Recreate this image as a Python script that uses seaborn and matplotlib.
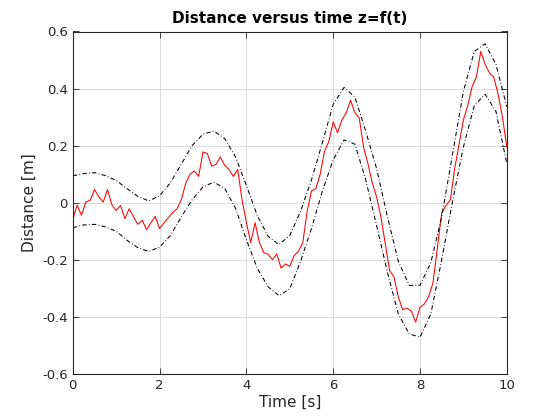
import numpy as np
import pandas as pd
import matplotlib
matplotlib.use("Agg")
import matplotlib.pyplot as plt
import seaborn as sns

# measured signal, sampled every 0.1 s
t_meas = np.round(np.arange(0, 10.01, 0.1), 2)
z_meas = [-0.058, -0.009, -0.044, 0.002, 0.008, 0.046, 0.02, 0.002, 0.046, -0.007,
          -0.027, -0.01, -0.056, -0.021, -0.05, -0.076, -0.062, -0.095, -0.071, -0.048,
          -0.091, -0.071, -0.053, -0.035, -0.022, 0.01, 0.067, 0.1, 0.111, 0.092,
          0.178, 0.172, 0.128, 0.134, 0.16, 0.131, 0.116, 0.092, 0.116, 0.01,
          -0.07, -0.14, -0.07, -0.14, -0.175, -0.181, -0.2, -0.18, -0.23, -0.215,
          -0.223, -0.186, -0.17, -0.14, -0.03, 0.041, 0.049, 0.1, 0.18, 0.215,
          0.283, 0.245, 0.29, 0.315, 0.359, 0.315, 0.297, 0.195, 0.137, 0.07,
          0.02, -0.05, -0.144, -0.238, -0.26, -0.33, -0.375, -0.37, -0.38, -0.419,
          -0.367, -0.355, -0.33, -0.28, -0.16, -0.035, -0.01, 0.01, 0.12, 0.205,
          0.29, 0.34, 0.406, 0.441, 0.53, 0.485, 0.455, 0.44, 0.38, 0.3,
          0.195]

# envelope, sampled every 0.25 s
t_env = np.arange(0, 10.01, 0.25)
z_upper = [0.094, 0.102, 0.105, 0.095, 0.078, 0.049, 0.022, 0.006, 0.024, 0.07,
           0.135, 0.2, 0.24, 0.251, 0.225, 0.16, 0.06, -0.045, -0.118, -0.147,
           -0.115, -0.03, 0.08, 0.21, 0.345, 0.404, 0.37, 0.25, 0.12, -0.05,
           -0.205, -0.29, -0.29, -0.21, -0.05, 0.17, 0.39, 0.53, 0.557, 0.485,
           0.336]
z_lower = [-0.088, -0.078, -0.076, -0.085, -0.1, -0.132, -0.158, -0.171, -0.156, -0.115,
           -0.05, 0.01, 0.055, 0.072, 0.05, -0.02, -0.13, -0.23, -0.295, -0.326,
           -0.302, -0.205, -0.09, 0.04, 0.15, 0.22, 0.205, 0.08, -0.08, -0.245,
           -0.39, -0.46, -0.472, -0.39, -0.2, 0.005, 0.195, 0.34, 0.38, 0.32,
           0.137]

x_ticks = [0, 2, 4, 6, 8, 10]
y_ticks = [-0.6, -0.4, -0.2, 0, 0.2, 0.4, 0.6]

sns.set_style("whitegrid")
plt.rcParams["font.family"] = ["DejaVu Sans"]
plt.rcParams["lines.scale_dashes"] = False

df_meas = pd.DataFrame({"t": t_meas, "z": z_meas})
df_env = pd.DataFrame({"t": t_env, "up": z_upper, "lo": z_lower})

fig = plt.figure(figsize=(5.6, 4.2), dpi=100)
ax = fig.add_axes([0.13, 0.11, 0.775, 0.815])

dashdot = (0, (3.2, 1.6, 0.6, 1.6))
sns.lineplot(data=df_meas, x="t", y="z", color="red", linewidth=0.75, ax=ax)
sns.lineplot(data=df_env, x="t", y="up", color="black", linewidth=0.75, linestyle=dashdot, ax=ax)
sns.lineplot(data=df_env, x="t", y="lo", color="black", linewidth=0.75, linestyle=dashdot, ax=ax)

ax.set_xlim(0, 10)
ax.set_ylim(-0.6, 0.6)
ax.set_xticks(x_ticks)
ax.set_xticklabels([str(v) for v in x_ticks])
ax.set_yticks(y_ticks)
ax.set_yticklabels(["-0.6", "-0.4", "-0.2", "0", "0.2", "0.4", "0.6"])
ax.grid(True, color="#dcdcdc", linewidth=0.7)
ax.tick_params(direction="in", length=4, width=0.6, colors="#262626", labelsize=9.5,
               top=True, right=True, bottom=True, left=True)
for s in ax.spines.values():
    s.set_color("#262626")
    s.set_linewidth(0.8)

ax.set_title("Distance versus time z=f(t)", fontsize=11, fontweight="bold", color="black", pad=6)
ax.set_xlabel("Time [s]", fontsize=11, color="#262626", labelpad=2)
ax.set_ylabel("Distance [m]", fontsize=11, color="#262626", labelpad=4)

fig.savefig("out.png", dpi=100, facecolor="white")
